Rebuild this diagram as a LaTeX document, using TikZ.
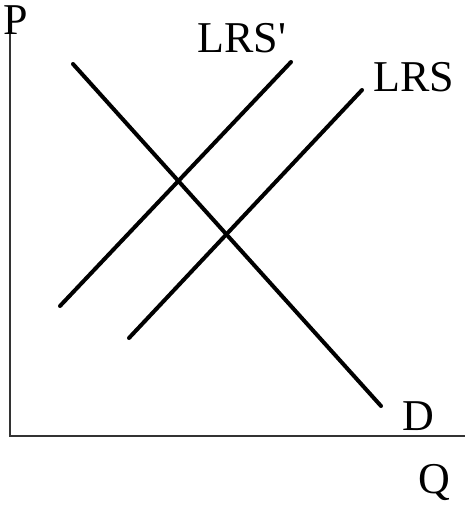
\documentclass[tikz,border=0pt]{standalone}
\usepackage{fontspec}
\newfontfamily\lblfont{Liberation Serif}
\begin{document}
\begin{tikzpicture}[x=1pt,y=-1pt,
  axis/.style={line width=2.6pt, draw=black!80},
  curve/.style={line width=4pt, line cap=round},
  lbl/.style={font=\lblfont\fontsize{44}{44}\selectfont, inner sep=0pt, anchor=base}]
\useasboundingbox (0,0) rectangle (465,508);
\coordinate (origin) at (10,436);
\coordinate (ytop) at (10,34);
\coordinate (xend) at (465,436);
\draw[axis] (ytop) -- (origin) -- (xend);
\coordinate (d1) at (73,64);
\coordinate (d2) at (381,406);
\coordinate (s1a) at (60,306);
\coordinate (s1b) at (291,62);
\coordinate (s2a) at (129,338);
\coordinate (s2b) at (362,90);
\draw[curve] (d1) -- (d2);
\draw[curve] (s1a) -- (s1b);
\draw[curve] (s2a) -- (s2b);
\node[lbl] (p) at (16,35) {P};
\node[lbl] (lrsp) at (242,53) {LRS'};
\node[lbl] (lrs) at (414,92) {LRS};
\node[lbl] (d) at (418,430) {D};
\node[lbl] (q) at (434,493) {Q};
\end{tikzpicture}
\end{document}
